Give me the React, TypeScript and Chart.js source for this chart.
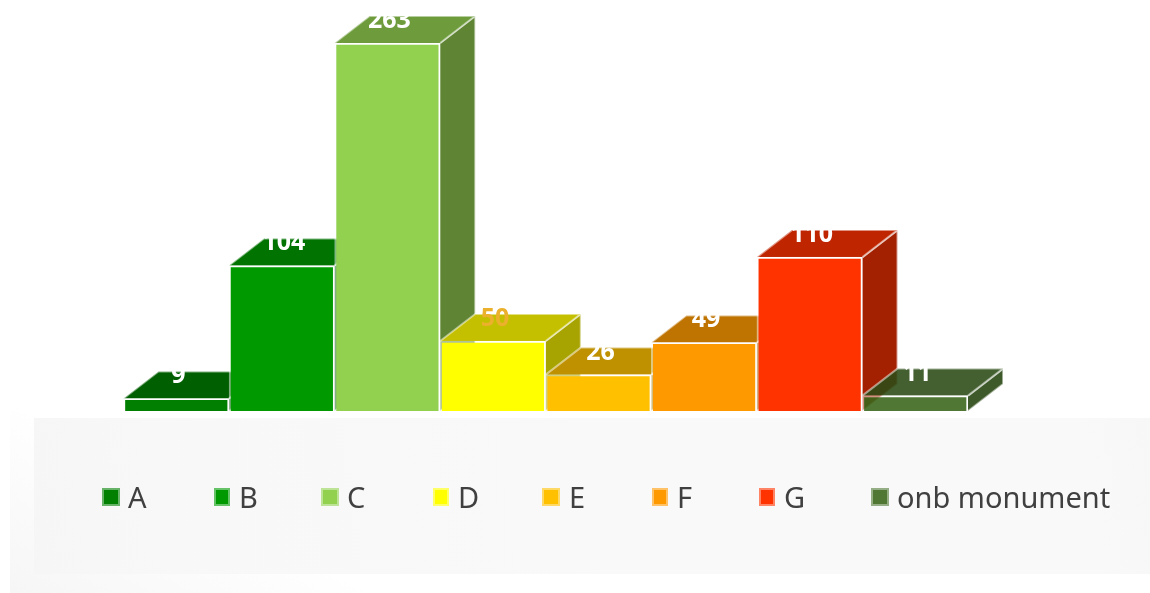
import React, { useEffect, useRef } from "react";
import { Chart, registerables } from "chart.js";

Chart.register(...registerables);

const categories = ["A", "B", "C", "D", "E", "F", "G", "onb monument"];
const values = [9, 104, 263, 50, 26, 49, 110, 11];
const frontColors = ["#007f00", "#009900", "#92d050", "#ffff00", "#ffc000", "#ff9900", "#ff3300", "rgba(58,103,27,0.89)"];
const topColors = ["#005f00", "#007300", "#6e9c3c", "#c4c000", "#bf9000", "#bf7300", "#bf2600", "rgba(45,76,23,0.89)"];
const sideColors = ["#005000", "#006200", "#5f8534", "#a7a300", "#a37b00", "#a36200", "#a32100", "rgba(38,70,16,0.89)"];
const labelColors = ["#ffffff", "#ffffff", "#ffffff", "#ebb02c", "#ffffff", "#ffffff", "#ffffff", "#ffffff"];

const DEPTH_X = 35;
const DEPTH_Y = 27;
const EDGE = "rgba(255,255,255,0.5)";

function poly(ctx: CanvasRenderingContext2D, pts: number[][], fill: string) {
  ctx.beginPath();
  pts.forEach(([x, y], i) => (i ? ctx.lineTo(x, y) : ctx.moveTo(x, y)));
  ctx.fillStyle = fill;
  ctx.fill();
  ctx.lineWidth = 2;
  ctx.strokeStyle = EDGE;
  ctx.stroke();
}

const backdrop = {
  id: "backdrop",
  beforeDraw(chart: any) {
    const { ctx } = chart;
    ctx.save();
    const g = ctx.createLinearGradient(10, 593, 90, 440);
    g.addColorStop(0, "#f6f6f6");
    g.addColorStop(1, "#ffffff");
    ctx.fillStyle = g;
    ctx.fillRect(10, 400, 1140, 193);
    const p = ctx.createLinearGradient(34, 574, 1150, 418);
    p.addColorStop(0, "#f6f6f6");
    p.addColorStop(0.12, "#f8f8f8");
    p.addColorStop(0.5, "#f9f9f9");
    p.addColorStop(0.94, "#f9f9f9");
    p.addColorStop(1, "#f7f7f7");
    ctx.fillStyle = p;
    ctx.fillRect(34, 418, 1116, 156);
    ctx.restore();
  },
};

const box3d = {
  id: "box3d",
  beforeDatasetsDraw(chart: any) {
    const { ctx } = chart;
    ctx.save();
    ctx.lineJoin = "round";
    chart.getSortedVisibleDatasetMetas().forEach((m: any) => {
      const i = m.index;
      const { x, y, base, width } = m.data[0].getProps(["x", "y", "base", "width"], true);
      const l = x - width / 2;
      const r = x + width / 2;
      poly(ctx, [[r, y], [r + DEPTH_X, y - DEPTH_Y], [r + DEPTH_X, base - DEPTH_Y], [r, base]], sideColors[i]);
      poly(ctx, [[l, y], [l + DEPTH_X, y - DEPTH_Y], [r + DEPTH_X, y - DEPTH_Y], [r, y]], topColors[i]);
    });
    ctx.restore();
  },
  afterDraw(chart: any) {
    const { ctx } = chart;
    ctx.save();
    ctx.textAlign = "center";
    ctx.textBaseline = "alphabetic";
    ctx.font = "bold 25px 'Noto Sans'";
    chart.getSortedVisibleDatasetMetas().forEach((m: any) => {
      const { x, y } = m.data[0].getProps(["x", "y"], true);
      ctx.fillStyle = labelColors[m.index];
      ctx.fillText(String(values[m.index]), x + 2, y - 15);
    });
    ctx.restore();
  },
};

const flatLegend = {
  id: "flatLegend",
  afterDraw(chart: any) {
    const swatchX = [102, 214, 321, 433, 542, 652, 759, 871];
    const swatchW = [18, 16, 18, 16, 18, 16, 16, 18];
    const textX = [128, 239, 347, 458, 569, 677, 784, 897];
    const { ctx } = chart;
    ctx.save();
    ctx.font = "29px 'Noto Sans'";
    ctx.textBaseline = "alphabetic";
    categories.forEach((name, i) => {
      const x = swatchX[i];
      const w = swatchW[i];
      ctx.fillStyle = frontColors[i];
      ctx.fillRect(x, 488, w, 18);
      ctx.strokeStyle = "rgba(255,255,255,0.4)";
      ctx.lineWidth = 2;
      ctx.strokeRect(x + 1, 489, w - 2, 16);
      ctx.fillStyle = "#404040";
      ctx.fillText(name, textX[i], 508);
    });
    ctx.restore();
  },
};

export default function App() {
  const ref = useRef<HTMLCanvasElement>(null);
  useEffect(() => {
    const chart = new Chart(ref.current!, {
      type: "bar",
      data: {
        labels: [""],
        datasets: categories.map((name, i) => ({
          label: name,
          data: [values[i]],
          backgroundColor: frontColors[i],
          borderColor: EDGE,
          borderWidth: 2,
          categoryPercentage: 1,
          barPercentage: 1,
        })),
      },
      options: {
        animation: false,
        responsive: false,
        layout: { padding: { top: 43, left: 123.5, right: 182, bottom: 182 } },
        scales: {
          x: { display: false },
          y: { display: false, min: 0, max: 263 },
        },
        plugins: { legend: { display: false }, tooltip: { enabled: false } },
      },
      plugins: [backdrop, box3d, flatLegend],
    });
    return () => chart.destroy();
  }, []);
  return (
    <div style={{ position: "fixed", left: 0, top: 0, width: 1150, height: 593, background: "#fff" }}>
      <canvas ref={ref} width={1150} height={593} style={{ display: "block", filter: "blur(0.6px)" }} />
    </div>
  );
}
